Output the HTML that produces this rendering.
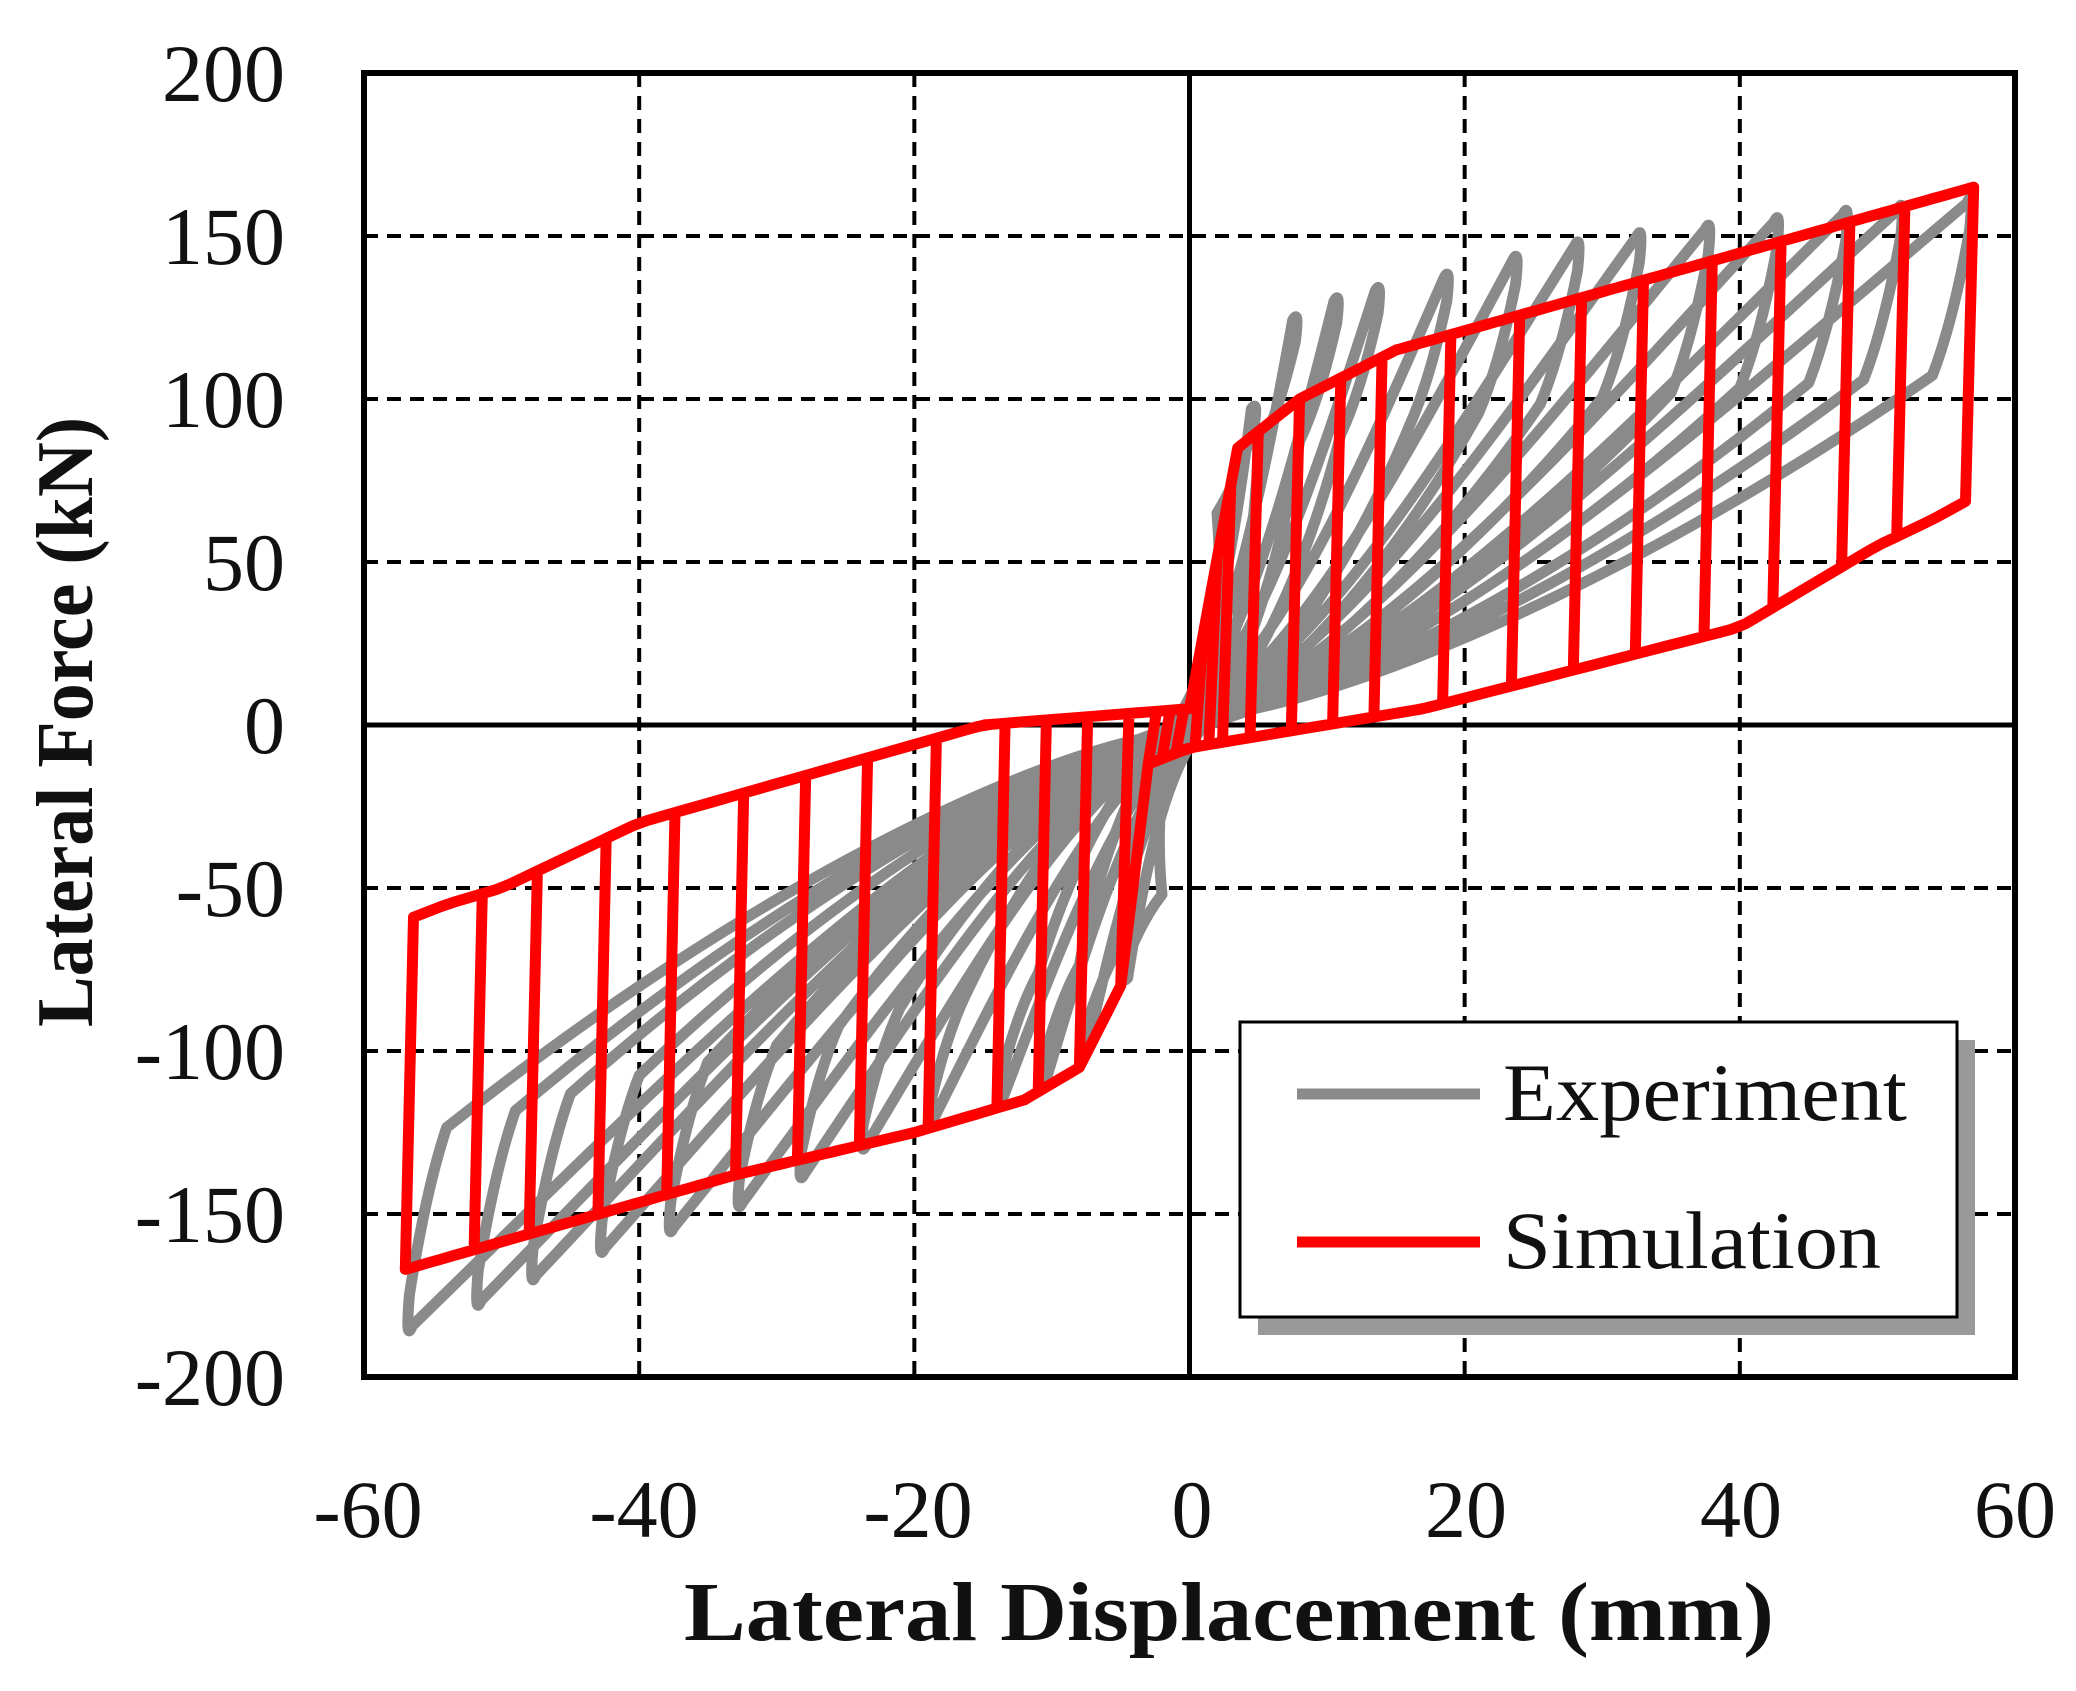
<!DOCTYPE html>
<html><head><meta charset="utf-8"><style>
html,body{margin:0;padding:0;background:#fff}
svg{display:block}
text{font-family:"Liberation Serif",serif;fill:#111}
</style></head><body>
<svg id="s" width="2076" height="1691" viewBox="0 0 2076 1691" xmlns="http://www.w3.org/2000/svg">
<defs><clipPath id="c"><rect x="364" y="73" width="1651" height="1304"/></clipPath></defs>
<rect width="2076" height="1691" fill="#fff"/>
<g id="grid" stroke="#000" stroke-width="4" stroke-dasharray="14,9"></g>
<line x1="1189.5" y1="73" x2="1189.5" y2="1377" stroke="#000" stroke-width="5"/>
<line x1="364" y1="725" x2="2015" y2="725" stroke="#000" stroke-width="5"/>
<g clip-path="url(#c)" fill="none" stroke-linejoin="round" stroke-linecap="round">
<g id="gray" stroke="#8a8a8a" stroke-width="11"></g>
<g id="red" stroke="#ff0000" stroke-width="11"></g>
</g>
<rect x="364" y="73" width="1651" height="1304" fill="none" stroke="#000" stroke-width="6"/>
<rect x="1258" y="1040" width="717" height="295" fill="#999"/>
<rect x="1240" y="1022" width="717" height="295" fill="#fff" stroke="#000" stroke-width="3"/>
<line x1="1297" y1="1094" x2="1480" y2="1094" stroke="#8a8a8a" stroke-width="11"/>
<line x1="1297" y1="1242" x2="1480" y2="1242" stroke="#ff0000" stroke-width="11"/>
<text x="1503" y="1120" font-size="82" textLength="404" lengthAdjust="spacingAndGlyphs">Experiment</text>
<text x="1503" y="1268" font-size="82" textLength="378" lengthAdjust="spacingAndGlyphs">Simulation</text>
<g font-size="82" text-anchor="end">
<text x="285" y="101">200</text><text x="285" y="264">150</text><text x="285" y="427">100</text>
<text x="285" y="590">50</text><text x="285" y="753">0</text><text x="285" y="916">-50</text>
<text x="285" y="1079">-100</text><text x="285" y="1242">-150</text><text x="285" y="1405">-200</text>
</g>
<g font-size="82" text-anchor="middle">
<text x="368" y="1537">-60</text><text x="644" y="1537">-40</text><text x="918" y="1537">-20</text>
<text x="1192" y="1537">0</text><text x="1466" y="1537">20</text><text x="1741" y="1537">40</text><text x="2015" y="1537">60</text>
</g>
<text x="1229" y="1640" font-size="84" font-weight="bold" text-anchor="middle" textLength="1090" lengthAdjust="spacingAndGlyphs">Lateral Displacement (mm)</text>
<text transform="translate(92,722) rotate(-90)" font-size="80" font-weight="bold" text-anchor="middle" textLength="610" lengthAdjust="spacingAndGlyphs">Lateral Force (kN)</text>
</svg>
<script>
var X=function(d){return 1189.5+d*13.758;},Y=function(f){return 725-f*3.26;};
var g=document.getElementById('grid'),ns="http://www.w3.org/2000/svg";
function ln(p,x1,y1,x2,y2){var l=document.createElementNS(ns,'line');l.setAttribute('x1',x1);l.setAttribute('y1',y1);l.setAttribute('x2',x2);l.setAttribute('y2',y2);p.appendChild(l);}
[-40,-20,20,40].forEach(function(d){ln(g,X(d),73,X(d),1377);});
[150,100,50,-50,-100,-150].forEach(function(f){ln(g,364,Y(f),2015,Y(f));});
function ip(P,x){if(x<=P[0][0])return P[0][1];for(var i=1;i<P.length;i++){if(x<=P[i][0]){var a=P[i-1],b=P[i];return a[1]+(b[1]-a[1])*(x-a[0])/(b[0]-a[0]);}}return P[P.length-1][1];}
var L=[[-3,-12],[0,-7],[17,5],[40,30],[50,55],[54,63],[57,70]];
var U=[[-57,-60],[-54,-55],[-50,-50],[-40,-30],[-25,-12],[-15,0],[0,5],[3,8]];
var Ep=[[0,5],[3.5,85],[8,100],[15,115],[57,165]];
var En=[[-57,-167],[-33,-138],[-20,-125],[-12,-115],[-8,-105],[-5,-80],[-3,-12],[0,-7]];
var amps=[1,2,3,5,8,11,14,19,24,28.5,33,38,43,48,52,57];
var red=document.getElementById('red'),gray=document.getElementById('gray');
function path(p,d){var e=document.createElementNS(ns,'path');e.setAttribute('d',d);p.appendChild(e);}
var d="";
amps.forEach(function(A){
 var pts=[],x;
 for(x=0;x<=A;x+=0.5){pts.push([x,x<3.5?5+x*22.9:ip(Ep,x)]);}
 pts.push([A,ip(Ep,A)]);
 var xa=A-0.6;pts.push([xa,ip(L,xa)]);
 for(x=xa;x>=-3;x-=1)pts.push([x,ip(L,x)]);
 for(x=-3;x>=-A;x-=0.5)pts.push([x,ip(En,x)]);
 pts.push([-A,ip(En,-A)]);
 xa=-A+0.6;pts.push([xa,ip(U,xa)]);
 for(x=xa;x<=0;x+=1)pts.push([x,ip(U,x)]);
 pts.push([0,5]);
 d+="M"+pts.map(function(p){return X(p[0]).toFixed(1)+","+Y(p[1]).toFixed(1);}).join("L");
});
path(red,d);
var Gp=[[0,0],[3,60],[5,100],[8,128],[12,136],[17,139],[22,145],[30,153],[47,161],[57,165]];
var Gn=[[-57,-190],[-52,-182],[-45,-168],[-35,-155],[-25,-135],[-20,-125],[-10,-112],[-6,-95],[-3,-50],[0,0]];
var gd="";
function P(x,y){return X(x).toFixed(1)+","+Y(y).toFixed(1);}
[5,8,11,14,19,24,28.5,33,38,43,48,52,57].forEach(function(A){
 var F=ip(Gp,A),Fn=ip(Gn,-A);
 gd+="M"+P(-2,-3)+"C"+P(0.3*A,0.08*F)+" "+P(0.65*A,0.55*F)+" "+P(A-0.5,0.97*F)+"Q"+P(A,F)+" "+P(A-0.3,0.92*F);
 gd+="Q"+P(A-1.5,0.75*F)+" "+P(A-3,0.65*F)+"C"+P(0.55*A,0.25*F)+" "+P(0.2*A,0.05*F)+" "+P(2,3);
 gd+="C"+P(-0.3*A,0.08*Fn)+" "+P(-0.65*A,0.55*Fn)+" "+P(-A+0.5,0.97*Fn)+"Q"+P(-A,Fn)+" "+P(-A+0.3,0.92*Fn);
 gd+="Q"+P(-A+1.5,0.75*Fn)+" "+P(-A+3,0.65*Fn)+"C"+P(-0.55*A,0.25*Fn)+" "+P(-0.2*A,0.05*Fn)+" "+P(-2,-3);
});
path(gray,gd);
</script>
</body></html>
